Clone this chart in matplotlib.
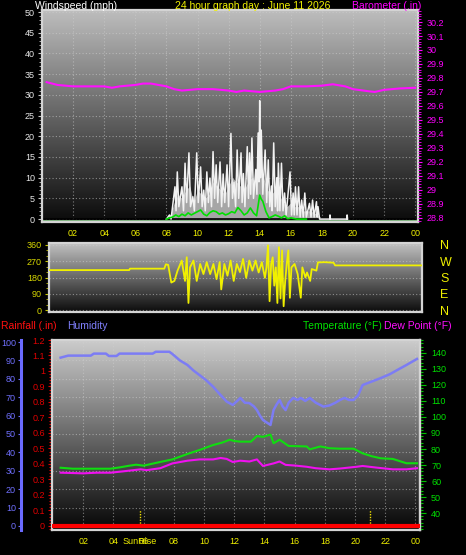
import numpy as np
import matplotlib
matplotlib.use("Agg")
import matplotlib.pyplot as plt
from matplotlib.colors import to_rgb
from matplotlib.ticker import MultipleLocator, FuncFormatter

plt.rcParams['font.family'] = ['Liberation Sans', 'DejaVu Sans']

# ---------------- data ----------------
title = "24 hour graph day : June 11 2026"
hour_ticks = [2, 4, 6, 8, 10, 12, 14, 16, 18, 20, 22, 24]
hour_labels = ['02', '04', '06', '08', '10', '12', '14', '16', '18', '20', '22', '00']

# barometer (inHg)
baro_t = [0.3, 1.0, 2.0, 3.0, 3.5, 4.0, 4.5, 5.0, 6.0, 6.5, 7.0, 7.5, 8.0, 8.5, 9.0, 10.0,
          11.0, 12.0, 12.5, 13.0, 14.0, 15.0, 15.5, 16.0, 17.0, 18.0, 18.7, 19.5, 20.0,
          21.0, 21.4, 22.0, 23.0, 24.0]
baro_v = [29.77, 29.75, 29.74, 29.74, 29.74, 29.74, 29.73, 29.74, 29.75, 29.76, 29.76, 29.75,
          29.74, 29.72, 29.71, 29.72, 29.72, 29.71, 29.70, 29.71, 29.70, 29.71, 29.72, 29.74,
          29.74, 29.745, 29.755, 29.74, 29.72, 29.705, 29.70, 29.715, 29.725, 29.73]

# wind gust spikes (mph)
gust_t = [8.0, 8.2, 8.3, 8.55, 8.62, 8.7, 8.8, 9.0, 9.1, 9.2, 9.3, 9.45, 9.55, 9.7, 9.8, 9.95,
          10.05, 10.2, 10.3, 10.4, 10.5, 10.6, 10.7, 10.8, 10.9, 11.0, 11.1, 11.2, 11.3, 11.45,
          11.55, 11.65, 11.75, 11.9, 12.0, 12.15, 12.25, 12.35, 12.45, 12.55, 12.65, 12.8,
          12.87, 12.95, 13.05, 13.2, 13.28, 13.35, 13.42, 13.5, 13.6, 13.75, 13.82, 13.9,
          13.95, 14.0, 14.05, 14.1, 14.2, 14.35, 14.45, 14.55, 14.65, 14.75, 14.8, 14.9,
          15.0, 15.1, 15.15, 15.2, 15.3, 15.4, 15.5, 15.6, 15.7, 15.95, 16.05, 16.15, 16.22,
          16.3, 16.4, 16.5, 16.6, 16.7, 16.8, 16.9, 17.0, 17.2, 17.3, 17.4, 17.5, 17.65, 17.7,
          17.75, 17.85, 18.5, 18.52, 18.55, 19.6, 19.62, 19.65]
gust_v = [0, 1, 0, 7.8, 2, 11.4, 3, 7.8, 2, 13.5, 4, 16, 3, 5.4, 2, 16,
          4, 12.6, 3, 7, 2, 11.4, 4, 9.9, 3, 16.3, 5, 13.1, 4, 13.8,
          3, 10.9, 4, 13.1, 3, 20.7, 5, 8.9, 3, 16.7, 5, 16,
          4, 11, 3, 17.5, 5, 16, 6, 19.6, 5, 12, 6, 20.8,
          9, 28.6, 10, 21.5, 6, 16.7, 4, 14.3, 3, 8, 2, 18.4,
          3, 10, 2, 13.5, 2, 13.5, 2, 6.3, 1, 11.4, 1, 6.3, 1,
          7.8, 1, 7.8, 0.5, 4.6, 0.5, 6.3, 0.5, 3.8, 0.5, 4.6, 0.5, 4.2, 0.5,
          3, 0, 0, 1, 0, 0, 1, 0]

# wind speed (mph)
speed_t = [8.0, 8.25, 8.5, 8.75, 9.0, 9.25, 9.5, 9.75, 10.0, 10.25, 10.5, 10.75, 11.0, 11.25,
           11.5, 11.75, 12.0, 12.25, 12.5, 12.75, 13.0, 13.25, 13.5, 13.75, 14.0, 14.25, 14.5,
           14.75, 15.0, 15.25, 15.5, 15.75, 16.0, 16.25, 16.5, 16.75, 17.0, 17.25, 17.5, 17.75, 18.0]
speed_v = [0, 1, 4, 6, 5, 7, 8, 4, 7, 6, 5, 6, 9, 8, 7, 6, 8, 10, 9, 8, 7, 9, 10, 9, 14, 10, 7,
           6, 7, 6, 4, 3, 4, 3, 3, 2, 2, 2, 1.5, 1, 0]

# average wind (mph)
avg_t = [8.0, 8.2, 8.4, 8.6, 8.8, 9.0, 9.2, 9.4, 9.6, 9.8, 10.0, 10.2, 10.4, 10.6, 10.8, 11.0,
         11.2, 11.4, 11.6, 11.8, 12.0, 12.2, 12.4, 12.6, 12.8, 13.0, 13.2, 13.4, 13.6, 13.8,
         14.0, 14.1, 14.2, 14.4, 14.6, 14.8, 15.0, 15.2, 15.4, 15.6, 15.8, 16.0, 16.4, 17.0]
avg_v = [0, 0.3, 0.5, 1.0, 0.6, 1.2, 0.8, 1.5, 1.0, 1.4, 1.8, 2.2, 1.2, 0.8, 1.6, 2.0,
         1.8, 1.2, 1.5, 1.0, 1.3, 1.8, 1.5, 2.8, 2.0, 1.0, 1.5, 2.7, 1.5, 0.8,
         5.8, 4.8, 4.3, 1.8, 0.3, 0.6, 1.0, 0.7, 0.3, 0.8, 0.1, 0.3, 0, 0]

# wind direction (degrees)
dir_t = [0.5, 5.6, 5.65, 7.85, 7.95, 8.1, 8.3, 8.5, 8.7, 8.97, 9.18, 9.29, 9.4, 9.5, 9.72,
         9.93, 10.15, 10.36, 10.57, 10.79, 11.0, 11.2, 11.4, 11.5, 11.7, 11.9, 12.1, 12.3,
         12.5, 12.7, 12.9, 13.1, 13.3, 13.5, 13.7, 13.9, 14.1, 14.3, 14.4, 14.5, 14.6, 14.7,
         14.8, 14.9, 15.0, 15.1, 15.2, 15.3, 15.4, 15.5, 15.6, 15.7, 15.8, 15.9, 16.0, 16.2,
         16.4, 16.6, 16.7, 16.9, 17.0, 17.2, 17.3, 17.6, 17.7, 17.9, 18.1, 18.7, 18.8, 24.4]
dir_v = [221, 221, 229, 229, 253, 250, 152, 161, 218, 274, 161, 292, 39, 236, 274,
         161, 255, 199, 265, 199, 255, 171, 265, 114, 255, 190, 274, 161,
         255, 210, 283, 178, 274, 218, 274, 208, 265, 178, 236, 358, 49, 255,
         292, 135, 236, 39, 348, 64, 330, 21, 161, 255, 330, 68, 236, 255,
         199, 68, 236, 180, 208, 161, 227, 218, 264, 264, 265, 262, 247, 247]

# humidity (%)
hum_t = [0.5, 1.0, 2.5, 2.7, 3.5, 3.7, 4.2, 4.4, 6.6, 6.8, 7.7, 7.9, 8.4, 8.9, 9.3, 9.7, 10.1,
         10.6, 11.0, 11.5, 11.9, 12.2, 12.4, 12.7, 13.0, 13.3, 13.5, 13.7, 13.9, 14.2, 14.4,
         14.6, 14.8, 15.0, 15.2, 15.4, 15.6, 15.9, 16.2, 16.4, 16.7, 17.0, 17.4, 17.9, 18.3,
         18.7, 19.0, 19.3, 19.6, 19.9, 20.2, 20.5, 21.1, 21.7, 22.3, 22.8, 23.4, 24.1]
hum_v = [91.5, 92.6, 92.6, 93.7, 93.7, 92.4, 92.4, 93.7, 93.7, 94.7, 94.7, 93.5, 90, 87.5, 84.5,
         82, 79.5, 75.7, 72, 67.6, 65.8, 68, 69.6, 67, 66.8, 65, 63, 60, 57.6, 56, 54.9,
         63, 66, 68.5, 65, 63, 67, 69.6, 68.5, 69.6, 68, 69.6, 67, 64.9, 65.5,
         67, 68.5, 69.6, 68.5, 68.5, 71, 76.6, 78.5, 80.4, 82.5, 84.8, 87.5, 90.8]

# temperature (F)
temp_t = [0.5, 1.3, 3.8, 4.4, 5.0, 5.5, 6.0, 6.9, 7.9, 8.9, 9.7, 10.6, 11.2, 11.7, 12.0, 12.4,
          13.1, 13.5, 13.9, 14.4, 14.6, 15.0, 15.6, 16.8, 17.0, 17.7, 18.3, 19.0, 19.9, 20.5,
          21.1, 21.7, 22.5, 23.4, 24.1]
temp_v = [68.3, 67.7, 67.7, 68.5, 69.5, 70.2, 69.6, 71.5, 73.5, 76.9, 79.4, 82.5, 84, 85.8, 85,
          84.6, 84.6, 88.1, 87.6, 89, 83.6, 85.8, 81.9, 81.6, 79.8, 81.6, 80.5, 80.2, 80.2, 77.3,
          75.5, 74.2, 73.8, 71.1, 71.1]

# dew point (F)
dew_t = [0.5, 2.0, 2.9, 3.8, 4.6, 5.8, 6.2, 7.1, 7.9, 8.9, 9.7, 10.6, 11.1, 11.5, 11.9, 12.4,
         13.0, 13.5, 13.9, 14.6, 15.0, 15.4, 16.1, 16.8, 17.4, 18.3, 19.0, 20.1, 20.5, 21.5,
         22.5, 23.4, 24.1]
dew_v = [65.2, 64.8, 65.2, 65.2, 66, 67.3, 66.8, 68, 71, 72.7, 73.5, 73.5, 74.4, 73.8, 71.9,
         72.7, 72.2, 73.5, 69.4, 71, 72.2, 70.1, 69.6, 68.9, 68, 67.3, 67.8, 68.9, 69.4, 68.3,
         67.3, 67.3, 68]

# rainfall (in)
rain_t = [0.0, 24.3]
rain_v = [0.0, 0.0]

sunrise_h = 5.76
sunset_h = 21.0

# ---------------- helpers ----------------
W, H = 466, 555


def rect(x0, y0, x1, y1):
    return [x0 / W, 1 - y1 / H, (x1 - x0) / W, (y1 - y0) / H]


def gradient(ax, top, bottom):
    t = np.linspace(0, 1, 256)[:, None, None]
    img = np.array(to_rgb(top))[None, None, :] * (1 - t) + np.array(to_rgb(bottom))[None, None, :] * t
    ax.imshow(img, extent=[0, 1, 0, 1], transform=ax.transAxes, aspect='auto',
              origin='upper', zorder=0, interpolation='bilinear')


gfmt = FuncFormatter(lambda v, p: f'{v:g}')
YEL = '#f0f000'
GRID = dict(color='#d0d0d0', linestyle=(0, (1, 2)), linewidth=0.8, alpha=0.55)
FRAME = '#d4d4d4'

fig = plt.figure(figsize=(4.66, 5.55), dpi=100, facecolor='black')

# ---------------- top panel: wind speed + barometer ----------------
ax1 = fig.add_axes(rect(42, 10, 418, 222))
gradient(ax1, '#bdbdbd', '#0a0a0a')
ax1.fill_between(speed_t, speed_v, 0, color='#a6a6a6', lw=0, zorder=2)
ax1.plot(gust_t, gust_v, color='#f2f2f2', lw=1.1, zorder=3)
ax1.axhline(0, color='black', lw=1.2, zorder=2.5)
ax1.axhline(-0.55, color='#90d090', lw=1.2, zorder=2.5)
ax1.plot(avg_t, avg_v, color='#00e000', lw=1.2, zorder=4)
ax1.set_xlim(0, 24.18)
ax1.set_ylim(-0.7, 50.5)
ax1.yaxis.set_major_locator(MultipleLocator(5))
ax1.yaxis.set_minor_locator(MultipleLocator(1))
ax1.set_xticks(hour_ticks)
ax1.set_xticklabels(hour_labels)
ax1.tick_params(axis='x', length=0, pad=5, labelsize=6.5, labelcolor=YEL)
ax1.tick_params(axis='y', which='major', length=3, width=0.8, color='#c8c8c8', pad=2,
                labelsize=6.5, labelcolor='#e8e8e8')
ax1.tick_params(axis='y', which='minor', length=2, width=0.6, color='#c8c8c8')
ax1.grid(True, which='major', **GRID)
for s in ax1.spines.values():
    s.set_color(FRAME)
    s.set_linewidth(1.6)

ax1b = ax1.twinx()
ax1b.plot(baro_t, baro_v, color='#ff10ff', lw=1.5, zorder=5)
ax1b.set_ylim(28.77, 30.286)
ax1b.yaxis.set_major_locator(MultipleLocator(0.1))
ax1b.yaxis.set_minor_locator(MultipleLocator(0.02))
ax1b.yaxis.set_major_formatter(gfmt)
ax1b.tick_params(axis='y', which='major', length=3, width=0.8, color='#ff00ff', pad=3,
                 labelsize=6.5, labelcolor='#ff00ff')
ax1b.tick_params(axis='y', which='minor', length=2, width=0.6, color='#ff00ff')
for s in ax1b.spines.values():
    s.set_visible(False)

# ---------------- wind direction panel ----------------
ax2 = fig.add_axes(rect(49, 243, 422, 312))
gradient(ax2, '#c4c4c4', '#0c0c0c')
ax2.plot(dir_t, dir_v, color='#f0f000', lw=1.3, zorder=3)
ax2.set_xlim(0.46, 24.37)
ax2.set_ylim(-11, 371)
ax2.set_yticks([0, 90, 180, 270, 360])
ax2.yaxis.set_minor_locator(MultipleLocator(30))
ax2.set_xticks([])
ax2.tick_params(axis='y', which='major', length=3, width=0.8, color='#c8c800', pad=2,
                labelsize=6.5, labelcolor='#d8d800')
ax2.tick_params(axis='y', which='minor', length=2, width=0.6, color='#c8c800')
ax2.grid(True, axis='y', which='major', **GRID)
for s in ax2.spines.values():
    s.set_color(FRAME)
    s.set_linewidth(1.6)
ax2b = ax2.twinx()
ax2b.set_ylim(-11, 371)
ax2b.set_yticks([360, 270, 180, 90, 0])
ax2b.set_yticklabels(['N', 'W', 'S', 'E', 'N'])
ax2b.tick_params(axis='y', length=0, pad=13, labelsize=9, labelcolor=YEL)
for s in ax2b.spines.values():
    s.set_visible(False)

# ---------------- bottom panel: rain / humidity / temperature ----------------
ax3 = fig.add_axes(rect(52, 340, 420, 530))
gradient(ax3, '#cccccc', '#060606')
ax3.set_xlim(-0.07, 24.3)
ax3.set_ylim(-0.026, 1.2)
ax3.yaxis.set_major_locator(MultipleLocator(0.1))
ax3.yaxis.set_minor_locator(MultipleLocator(0.02))
ax3.yaxis.set_major_formatter(gfmt)
ax3.tick_params(axis='y', which='major', length=3, width=0.8, color='#e00000', pad=2,
                labelsize=6.5, labelcolor='#e00000')
ax3.tick_params(axis='y', which='minor', length=2, width=0.8, color='#e00000')
ax3.set_xticks(hour_ticks)
ax3.set_xticklabels(hour_labels)
ax3.tick_params(axis='x', length=0, pad=5, labelsize=6.5, labelcolor=YEL)
ax3.grid(True, axis='x', which='major', **GRID)
for s in ax3.spines.values():
    s.set_color(FRAME)
    s.set_linewidth(1.6)
ax3.annotate('SunRise', xy=(sunrise_h, 0), xycoords=('data', 'axes fraction'),
             xytext=(0, -5), textcoords='offset points', color=YEL, fontsize=6.5,
             ha='center', va='top', annotation_clip=False)

ax3h = ax3.twinx()
ax3h.yaxis.set_ticks_position('left')
ax3h.spines['left'].set_position(('outward', 22))
ax3h.spines['left'].set_visible(True)
ax3h.spines['left'].set_color('#6a6aff')
ax3h.spines['left'].set_linewidth(2.2)
for k in ('right', 'top', 'bottom'):
    ax3h.spines[k].set_visible(False)
ax3h.set_ylim(-2.2, 101.1)
ax3h.yaxis.set_major_locator(MultipleLocator(10))
ax3h.set_yticks([0, 10, 20, 30, 40, 50, 60, 70, 80, 90, 100])
ax3h.grid(True, axis='y', which='major', **GRID)
ax3h.tick_params(axis='y', which='major', length=2, width=0.8, color='#6a6aff', pad=2,
                 labelsize=6.5, labelcolor='#7070ff')
ax3h.plot(hum_t, hum_v, color='#7c7cf4', lw=1.8, zorder=4)

ax3t = ax3.twinx()
ax3t.set_ylim(29.4, 148.1)
ax3t.yaxis.set_minor_locator(MultipleLocator(2))
ax3t.set_yticks([40, 50, 60, 70, 80, 90, 100, 110, 120, 130, 140])
ax3t.tick_params(axis='y', which='major', length=4, width=0.8, color='#00c000', pad=4,
                 labelsize=6.5, labelcolor='#00e000')
ax3t.tick_params(axis='y', which='minor', length=2, width=0.8, color='#00c000')
for k in ('left', 'top', 'bottom'):
    ax3t.spines[k].set_visible(False)
ax3t.spines['right'].set_color(FRAME)
ax3t.spines['right'].set_linewidth(1.6)
ax3t.plot(temp_t, temp_v, color='#10dd10', lw=1.5, zorder=4)
ax3t.plot(dew_t, dew_v, color='#f010f0', lw=1.5, zorder=4)
# rain line and sun markers on top, in rainfall units
ax3t.plot(rain_t, rain_v, color='#ff0000', lw=3, zorder=6, transform=ax3.transData)
for h in (sunrise_h, sunset_h):
    ax3t.plot([h, h], [0, 0.1], color='#f0e000', lw=1, linestyle=(0, (1, 1)), zorder=5,
              transform=ax3.transData)
ax3t.set_ylim(29.4, 148.1)

# ---------------- titles ----------------
tf = 7.5
fig.text(35 / W, 1 - 6 / H, 'Windspeed (mph)', color='white', fontsize=tf, va='center', ha='left')
fig.text(253 / W, 1 - 6 / H, title, color=YEL, fontsize=tf, va='center', ha='center')
fig.text(421 / W, 1 - 6 / H, 'Barometer (.in)', color='#ff00ff', fontsize=tf, va='center', ha='right')
fig.text(1 / W, 1 - 326 / H, 'Rainfall (.in)', color='#ff1010', fontsize=tf, va='center', ha='left')
fig.text(67 / W, 1 - 326 / H, 'Humidity', color='#8080ff', fontsize=tf, va='center', ha='left')
fig.text(382 / W, 1 - 326 / H, 'Temperature (\u00b0F)', color='#00e000', fontsize=tf, va='center', ha='right')
fig.text(384 / W, 1 - 326 / H, 'Dew Point (\u00b0F)', color='#ff10ff', fontsize=tf, va='center', ha='left')

fig.savefig('out.png', dpi=100, facecolor='black')
